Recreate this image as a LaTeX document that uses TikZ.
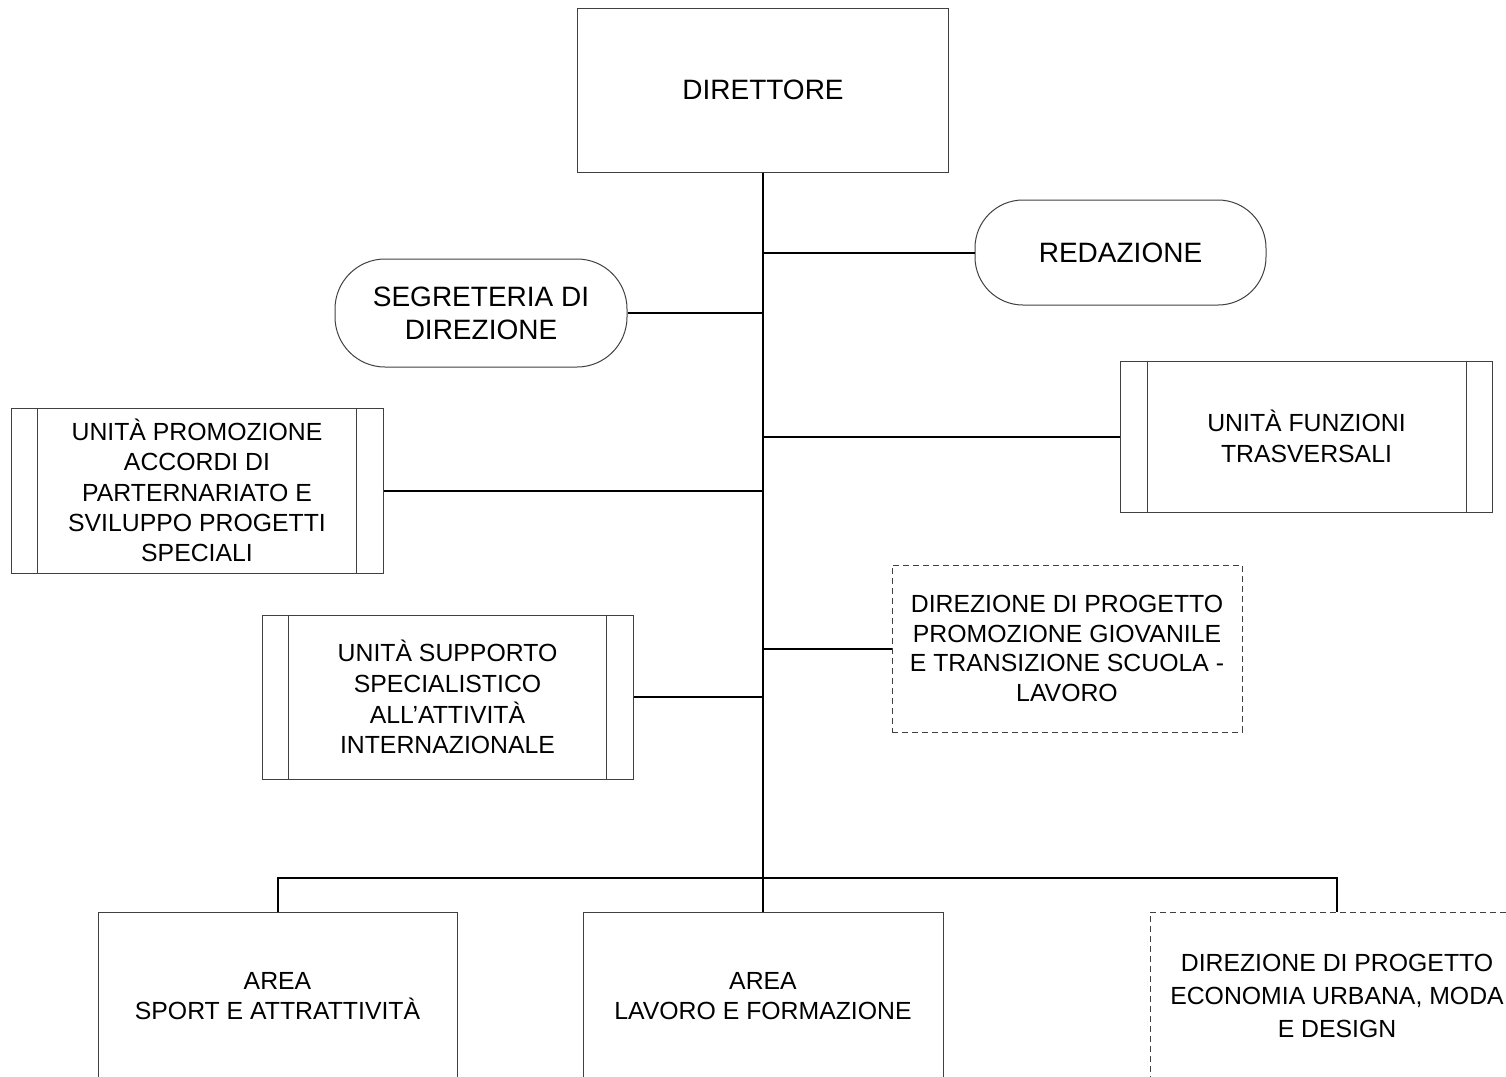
\documentclass[tikz,border=0pt]{standalone}
\usepackage{fontspec}
\setmainfont{Liberation Sans}
\begin{document}
\begin{tikzpicture}[x=0.5pt,y=-0.5pt,
  box/.style={draw=black!75,line width=0.5pt,align=center,inner sep=0pt,font=\fontsize{12.4}{15.4}\selectfont},
  dbox/.style={box,dash pattern=on 3pt off 2pt},
  conn/.style={draw=black,line width=1pt},
  bar/.style={draw=black!75,line width=0.5pt}]
\useasboundingbox (0,0) rectangle (1506,1077);
\clip (0,0) rectangle (1506,1077);
% nodes
\node[box,minimum width=185.5pt,minimum height=82pt,font=\fontsize{14}{17}\selectfont] (dir) at (763,90) {DIRETTORE};
\node[box,minimum width=145.5pt,minimum height=52.5pt,rounded corners=24pt,font=\fontsize{14}{17}\selectfont] (red) at (1120.5,252.5) {REDAZIONE};
\node[box,minimum width=146pt,minimum height=54pt,rounded corners=25pt,font=\fontsize{14}{16.5}\selectfont] (seg) at (481,313) {SEGRETERIA DI\\DIREZIONE};
\node[box,minimum width=186pt,minimum height=75.5pt] (fun) at (1306.5,436.5) {UNITÀ FUNZIONI\\TRASVERSALI};
\node[box,minimum width=186pt,minimum height=82.5pt,font=\fontsize{12.4}{15.1}\selectfont] (pro) at (197,490.5) {UNITÀ PROMOZIONE\\ACCORDI DI\\PARTERNARIATO E\\SVILUPPO PROGETTI\\SPECIALI};
\node[dbox,minimum width=175pt,minimum height=83.5pt,font=\fontsize{12.4}{14.8}\selectfont] (dp1) at (1067,648.5) {DIREZIONE DI PROGETTO\\PROMOZIONE GIOVANILE\\E TRANSIZIONE SCUOLA -\\LAVORO};
\node[box,minimum width=185.5pt,minimum height=82pt] (sup) at (447.5,697) {UNITÀ SUPPORTO\\SPECIALISTICO\\ALL’ATTIVITÀ\\INTERNAZIONALE};
\node[box,minimum width=179.5pt,minimum height=84pt] (a1) at (277.5,996) {AREA\\SPORT E ATTRATTIVITÀ};
\node[box,minimum width=180pt,minimum height=84pt] (a2) at (763,996) {AREA\\LAVORO E FORMAZIONE};
\node[dbox,minimum width=187pt,minimum height=84pt,font=\fontsize{12.4}{16.3}\selectfont] (a3) at (1337,996) {DIREZIONE DI PROGETTO\\ECONOMIA URBANA, MODA\\E DESIGN};
% inner bars
\foreach \n in {fun,pro,sup}{
  \draw[bar] ([xshift=13.5pt]\n.north west) -- ([xshift=13.5pt]\n.south west);
  \draw[bar] ([xshift=-13.5pt]\n.north east) -- ([xshift=-13.5pt]\n.south east);
}
% connectors
\draw[conn] (dir.south) -- (a2.north);
\draw[conn] (red.west) -- (red.west -| dir.south);
\draw[conn] (seg.east) -- (seg.east -| dir.south);
\draw[conn] (fun.west) -- (fun.west -| dir.south);
\draw[conn] (pro.east) -- (pro.east -| dir.south);
\draw[conn] (dp1.west) -- (dp1.west -| dir.south);
\draw[conn] (sup.east) -- (sup.east -| dir.south);
\coordinate (bus) at (763,878);
\draw[conn] (a1.north) |- (bus) -| (a3.north);
\end{tikzpicture}
\end{document}
